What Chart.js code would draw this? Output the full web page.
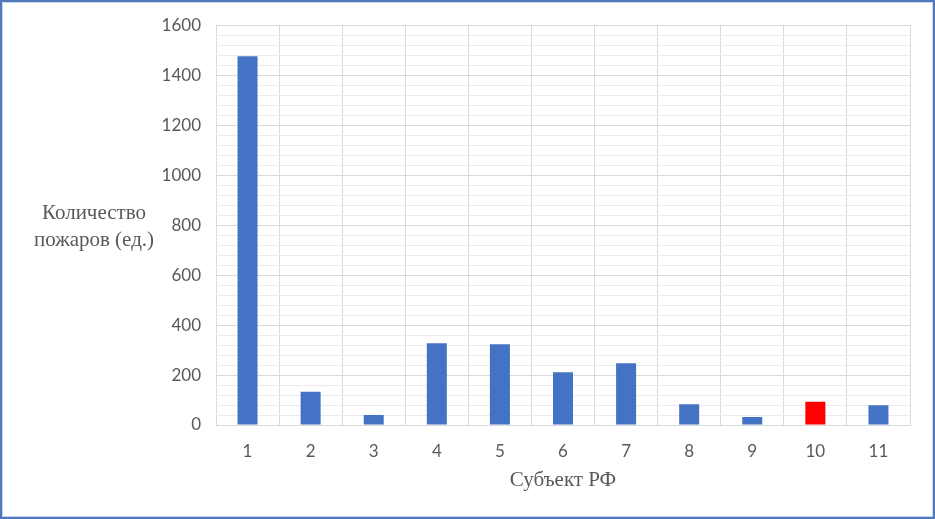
<!DOCTYPE html>
<html lang="ru">
<head>
<meta charset="utf-8">
<title>Количество пожаров по субъектам РФ</title>
<script src="https://cdn.jsdelivr.net/npm/chart.js@4.4.1/dist/chart.umd.min.js"></script>
<style>
  body { margin: 0; background: #fff; }
  #wrap { position: relative; width: 935px; height: 519px; }
  #fireChart { position: absolute; left: 0; top: 0; }
  #frame {
    position: absolute; inset: 0; box-sizing: border-box;
    border: 2px solid #4f78bd; box-shadow: inset 0 0 0 1px #c9d7ee;
    pointer-events: none;
  }
</style>
</head>
<body>
<div id="wrap">
  <canvas id="fireChart" width="935" height="519"></canvas>
  <div id="frame"></div>
</div>
<script>
const subjects = ["1", "2", "3", "4", "5", "6", "7", "8", "9", "10", "11"];
const fires = [1476, 133, 40, 327, 323, 211, 247, 83, 32, 93, 79];
const highlighted = "10";

const yTitleLines = ["Количество", "пожаров (ед.)"];
const xTitle = "Субъект РФ";

const blue = "#4472C4";
const red = "#FF0000";
const majorGrid = "#d9d9d9";
const minorGrid = "#ebebeb";

const axisTitles = {
  id: "axisTitles",
  afterDraw(chart) {
    const { ctx, chartArea } = chart;
    ctx.save();
    ctx.fillStyle = "#595959";
    ctx.font = "21px 'Liberation Serif'";
    ctx.textAlign = "center";
    ctx.textBaseline = "middle";
    const midY = (chartArea.top + chartArea.bottom) / 2;
    ctx.fillText(yTitleLines[0], 94, midY - 12);
    ctx.fillText(yTitleLines[1], 94, midY + 15);
    ctx.fillText(xTitle, (chartArea.left + chartArea.right) / 2, 480);
    ctx.restore();
  },
};

new Chart(document.getElementById("fireChart"), {
  type: "bar",
  data: {
    labels: subjects,
    datasets: [
      {
        label: "Количество пожаров (ед.)",
        data: fires,
        backgroundColor: subjects.map((s) => (s === highlighted ? red : blue)),
        barPercentage: 0.317,
        categoryPercentage: 1,
      },
    ],
  },
  options: {
    responsive: false,
    animation: false,
    devicePixelRatio: 1,
    layout: { padding: { top: 25, right: 25, bottom: 0, left: 0 } },
    plugins: {
      legend: { display: false },
      tooltip: { enabled: false },
    },
    scales: {
      x: {
        grid: { color: majorGrid, drawTicks: false, offset: true },
        border: { display: true, color: majorGrid },
        ticks: {
          color: "#595959",
          padding: 16,
          font: { family: "Lato", size: 17 },
        },
        afterFit(axis) {
          axis.height = 94;
        },
      },
      y: {
        min: 0,
        max: 1600,
        grid: {
          drawTicks: false,
          color: (c) => (c.tick.value % 200 === 0 ? majorGrid : minorGrid),
        },
        border: { display: false },
        ticks: {
          stepSize: 40,
          autoSkip: false,
          color: "#595959",
          padding: 15,
          font: { family: "Lato", size: 17 },
          callback: (v) => (v % 200 === 0 ? v : ""),
        },
        afterFit(axis) {
          axis.width = 216;
        },
      },
    },
  },
  plugins: [axisTitles],
});
</script>
</body>
</html>
